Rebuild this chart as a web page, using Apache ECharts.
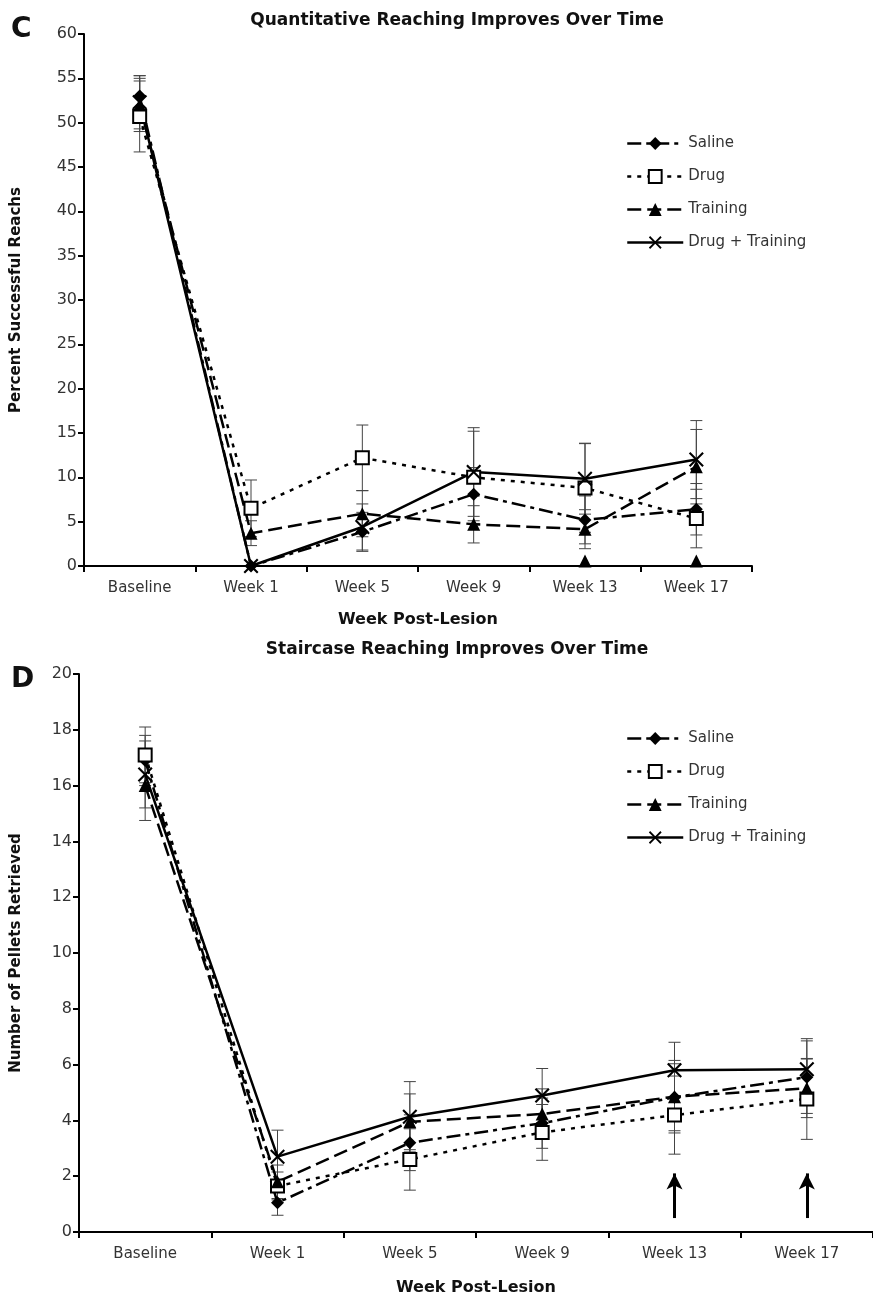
<!DOCTYPE html>
<html><head><meta charset="utf-8">
<script src="https://cdn.jsdelivr.net/npm/echarts@6/dist/echarts.min.js"></script>
<style>html,body{margin:0;padding:0;background:#fff}#chart{width:873px;height:1307px}</style>
</head><body><div id="chart"></div>
<script>
// ---------- data ----------
const categories = ['Baseline', 'Week 1', 'Week 5', 'Week 9', 'Week 13', 'Week 17'];
const seriesNames = ['Saline', 'Drug', 'Training', 'Drug + Training'];

// Panel C: Percent Successful Reachs
const cSaline = [53.0, 0.0, 3.85, 8.1, 5.2, 6.4];
const cSalineErr = [2.3, 0, 2.2, 3.0, 2.7, 2.9];
const cDrug = [50.7, 6.5, 12.2, 10.0, 8.8, 5.35];
const cDrugErr = [4.0, 3.2, 3.7, 5.2, 5.0, 3.3];
const cTraining = [52.0, 3.7, 5.9, 4.7, 4.15, 11.2];
const cTrainingErr = [3.0, 1.4, 2.6, 2.1, 2.2, 4.2];
const cDrugTraining = [52.3, 0.0, 4.4, 10.6, 9.85, 12.0];
const cDrugTrainingErr = [3.0, 0, 2.6, 5.0, 4.0, 4.4];
const cAxisMarks = [null, null, null, null, 0, 0];

// Panel D: Number of Pellets Retrieved
const dSaline = [16.9, 1.05, 3.2, 3.9, 4.83, 5.55];
const dSalineErr = [0.9, 0.45, 1.0, 0.9, 1.2, 1.3];
const dDrug = [17.1, 1.65, 2.6, 3.57, 4.19, 4.77];
const dDrugErr = [1.0, 0.5, 1.1, 1.0, 1.4, 1.45];
const dTraining = [16.0, 1.8, 3.95, 4.23, 4.85, 5.15];
const dTrainingErr = [1.25, 0.6, 1.0, 0.9, 1.3, 1.05];
const dDrugTraining = [16.4, 2.7, 4.13, 4.89, 5.8, 5.83];
const dDrugTrainingErr = [1.2, 0.95, 1.26, 0.97, 1.0, 1.1];
const dArrowWeeks = ['Week 13', 'Week 17'];
const dArrowFrom = 0.5;
const dArrowTo = 2.1;

// ---------- styles ----------
const FONT = 'DejaVu Sans';
const xPath = 'path://M0,1 L1,0 L5,4 L9,0 L10,1 L6,5 L10,9 L9,10 L5,6 L1,10 L0,9 L4,5 Z';
const styles = {
  'Saline': { symbol: 'diamond', size: 13, dash: [14, 5, 4, 5] },
  'Drug': { symbol: 'emptyRect', size: 13, dash: [4, 6] },
  'Training': { symbol: 'triangle', size: 13, dash: [14, 6] },
  'Drug + Training': { symbol: xPath, size: 15, dash: 'solid' }
};

function lineSeries(name, values, gi) {
  const st = styles[name];
  return {
    type: 'line', name: name, xAxisIndex: gi, yAxisIndex: gi,
    data: values, symbol: st.symbol, symbolSize: st.size, showSymbol: true,
    clip: false, z: 3,
    lineStyle: { color: '#000', width: 2.5, type: st.dash, cap: 'butt' },
    itemStyle: { color: '#000', borderColor: '#000', borderWidth: st.symbol === 'emptyRect' ? 1.2 : 0, opacity: 1 },
    emphasis: { disabled: true }
  };
}

function errSeries(name, values, errs, gi) {
  const data = [];
  values.forEach((v, i) => { if (errs[i] > 0) data.push([i, v - errs[i], v + errs[i]]); });
  return {
    type: 'custom', name: name + ' error', xAxisIndex: gi, yAxisIndex: gi, z: 2, silent: true,
    encode: { x: 0, y: [1, 2] },
    data: data,
    renderItem: function (params, api) {
      const x = api.value(0);
      const lo = api.coord([x, api.value(1)]);
      const hi = api.coord([x, api.value(2)]);
      const w = 6;
      const st = { stroke: '#444', lineWidth: 1 };
      return {
        type: 'group', children: [
          { type: 'line', shape: { x1: lo[0], y1: lo[1], x2: hi[0], y2: hi[1] }, style: st },
          { type: 'line', shape: { x1: lo[0] - w, y1: lo[1], x2: lo[0] + w, y2: lo[1] }, style: st },
          { type: 'line', shape: { x1: hi[0] - w, y1: hi[1], x2: hi[0] + w, y2: hi[1] }, style: st }
        ]
      };
    }
  };
}

function xAxisCfg(gi, gap) {
  return {
    type: 'category', gridIndex: gi, data: categories, boundaryGap: true,
    name: 'Week Post-Lesion', nameLocation: 'middle', nameGap: gap,
    nameTextStyle: { fontFamily: FONT, fontWeight: 'bold', fontSize: 16, color: '#111' },
    axisLine: { lineStyle: { color: '#000', width: 2 } },
    axisTick: { show: true, inside: false, length: 6, alignWithLabel: false, lineStyle: { color: '#000', width: 2 } },
    axisLabel: { fontFamily: FONT, fontSize: 15, color: '#333', margin: 15, interval: 0 },
    splitLine: { show: false }
  };
}
function yAxisCfg(gi, name, max, interval, gap) {
  return {
    type: 'value', gridIndex: gi, min: 0, max: max, interval: interval,
    name: name, nameLocation: 'middle', nameGap: gap,
    nameTextStyle: { fontFamily: FONT, fontWeight: 'bold', fontSize: 15, color: '#111' },
    axisLine: { show: true, lineStyle: { color: '#000', width: 2 } },
    axisTick: { show: true, inside: false, length: 6, lineStyle: { color: '#000', width: 2 } },
    axisLabel: { fontFamily: FONT, fontSize: 16, color: '#333', margin: 7 },
    splitLine: { show: false }
  };
}

const cVals = { 'Saline': [cSaline, cSalineErr], 'Drug': [cDrug, cDrugErr], 'Training': [cTraining, cTrainingErr], 'Drug + Training': [cDrugTraining, cDrugTrainingErr] };
const dVals = { 'Saline': [dSaline, dSalineErr], 'Drug': [dDrug, dDrugErr], 'Training': [dTraining, dTrainingErr], 'Drug + Training': [dDrugTraining, dDrugTrainingErr] };

const series = [];
seriesNames.forEach(n => series.push(lineSeries(n, cVals[n][0], 0)));
seriesNames.forEach(n => series.push(lineSeries(n, dVals[n][0], 1)));
seriesNames.forEach(n => series.push(errSeries(n, cVals[n][0], cVals[n][1], 0)));
seriesNames.forEach(n => series.push(errSeries(n, dVals[n][0], dVals[n][1], 1)));

series.push({
  type: 'scatter', name: 'axis-marks', xAxisIndex: 0, yAxisIndex: 0, data: cAxisMarks,
  symbol: 'triangle', symbolSize: 13, symbolOffset: [0, -5],
  itemStyle: { color: '#000', opacity: 1 }, clip: false, silent: true, z: 4
});

series.push({
  type: 'line', name: 'arrows', xAxisIndex: 1, yAxisIndex: 1, data: [], silent: true,
  markLine: {
    silent: true, animation: false,
    label: { show: false },
    lineStyle: { color: '#000', width: 3, type: 'solid' },
    symbolSize: [12, 16],
    data: dArrowWeeks.map(w => [
      { coord: [w, dArrowFrom], symbol: 'none' },
      { coord: [w, dArrowTo], symbol: 'arrow' }
    ])
  }
});

function legendCfg(top) {
  return {
    orient: 'vertical', left: 621, top: top, itemWidth: 56, itemHeight: 16, itemGap: 18,
    data: seriesNames, selectedMode: false,
    lineStyle: { width: 2.5 },
    textStyle: { fontFamily: FONT, fontSize: 15, color: '#333' }
  };
}

const option = {
  backgroundColor: '#fff',
  animation: false,
  textStyle: { fontFamily: FONT },
  grid: [
    { left: 84, top: 34, width: 668, height: 532, containLabel: false },
    { left: 79, top: 674, width: 799, height: 558, containLabel: false }
  ],
  xAxis: [xAxisCfg(0, 46), xAxisCfg(1, 48)],
  yAxis: [
    yAxisCfg(0, 'Percent Successful Reachs', 60, 5, 60),
    yAxisCfg(1, 'Number of Pellets Retrieved', 20, 2, 55)
  ],
  legend: [legendCfg(131), legendCfg(726)],
  graphic: [
    { type: 'text', left: 11, top: 16, style: { text: 'C', font: 'bold 28px "DejaVu Sans"', fill: '#111' } },
    { type: 'text', left: 11, top: 666, style: { text: 'D', font: 'bold 28px "DejaVu Sans"', fill: '#111' } }
  ],
  title: [
    { text: 'Quantitative Reaching Improves Over Time', left: 452, top: 7, textAlign: 'center',
      textStyle: { fontFamily: FONT, fontWeight: 'bold', fontSize: 17, color: '#111' } },
    { text: 'Staircase Reaching Improves Over Time', left: 452, top: 636, textAlign: 'center',
      textStyle: { fontFamily: FONT, fontWeight: 'bold', fontSize: 17, color: '#111' } }
  ],
  series: series
};

const chart = echarts.init(document.getElementById('chart'), null, { renderer: 'canvas' });
chart.setOption(option);
</script></body></html>
